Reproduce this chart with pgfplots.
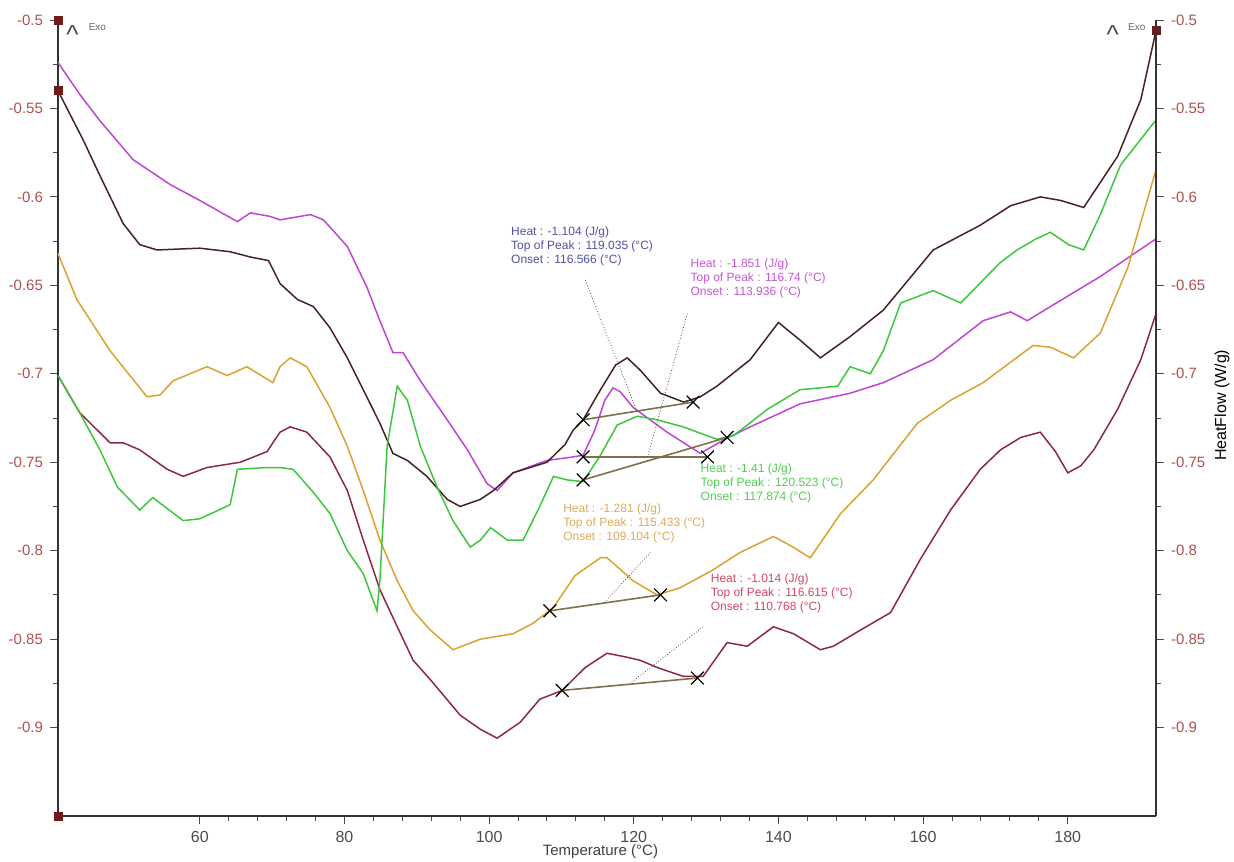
\documentclass[border=0pt]{standalone}
\usepackage{fontspec}
\setmainfont{Liberation Sans}
\usepackage{pgfplots}
\pgfplotsset{compat=1.18}

\definecolor{cMag}{RGB}{190,70,210}
\definecolor{cBrn}{RGB}{72,34,34}
\definecolor{cOrg}{RGB}{218,162,50}
\definecolor{cMar}{RGB}{140,40,70}
\definecolor{cGrn}{RGB}{60,200,60}
\definecolor{cBase}{RGB}{125,112,75}
\definecolor{tickred}{RGB}{176,80,80}
\definecolor{tBlue}{RGB}{80,80,165}
\definecolor{tMag}{RGB}{200,85,215}
\definecolor{tGrn}{RGB}{80,205,80}
\definecolor{tOrg}{RGB}{225,170,90}
\definecolor{tMar}{RGB}{210,70,100}

\pgfplotsset{
  dscax/.style={
    scale only axis, width=549pt, height=398pt,
    xmin=40.4, xmax=192.2, ymin=-0.95, ymax=-0.5,
    ytick={-0.9,-0.85,-0.8,-0.75,-0.7,-0.65,-0.6,-0.55,-0.5},
    minor y tick num=1,
    tick align=outside,
    major tick length=4pt, minor tick length=2.5pt,
    axis line style={line width=0.8pt, black!80},
    tick style={black!70, line width=0.5pt},
    yticklabel style={font=\fontsize{7.5}{9}\selectfont, text=tickred},
    /pgf/number format/fixed,
    /pgf/number format/precision=2,
    /pgf/number format/assume math mode=true,
  },
}
\tikzset{ann/.style={font=\fontsize{6}{7}\selectfont, align=left, anchor=north west, inner sep=0pt}}

\begin{document}
\begin{tikzpicture}
\begin{axis}[
  dscax,
  axis x line*=bottom, axis y line*=left,
  xtick={60,80,...,180}, minor x tick num=4,
  xticklabel style={font=\fontsize{8}{9}\selectfont, text=black!70},
  clip=false,
]
% magenta
\addplot[cMag, line width=0.75pt] coordinates {
(40.4,-0.524) (43.4,-0.542) (46.2,-0.557) (50.8,-0.579) (55.9,-0.593) (60.0,-0.602)
(65.2,-0.614) (67.0,-0.609) (69.7,-0.611) (71.1,-0.613) (75.3,-0.610) (77.1,-0.613)
(80.4,-0.628) (83.1,-0.651) (84.9,-0.670) (86.7,-0.688) (88.1,-0.688) (90.5,-0.704)
(94.2,-0.726) (97.0,-0.743) (99.7,-0.762) (101.1,-0.766) (103.3,-0.756) (108.0,-0.749)
(111.6,-0.747) (113.0,-0.746) (114.6,-0.732) (116.0,-0.715) (117.1,-0.708) (118.1,-0.710)
(119.9,-0.719) (124.6,-0.733) (129.2,-0.745) (132.6,-0.737) (136.1,-0.730) (143.0,-0.717)
(149.9,-0.711) (154.5,-0.705) (161.4,-0.692) (168.3,-0.670) (172.1,-0.665) (174.4,-0.670)
(177.6,-0.662) (184.5,-0.645) (192.1,-0.624)
};
% dark brown
\addplot[cBrn, line width=0.75pt] coordinates {
(40.4,-0.540) (43.9,-0.568) (46.2,-0.588) (49.4,-0.615) (51.7,-0.627) (54.1,-0.630)
(60.0,-0.629) (64.2,-0.631) (67.0,-0.634) (69.5,-0.636) (71.1,-0.649) (73.5,-0.658)
(75.7,-0.662) (78.0,-0.674) (80.4,-0.691) (82.6,-0.709) (84.9,-0.728) (86.7,-0.745)
(88.7,-0.749) (91.4,-0.758) (94.2,-0.771) (96.0,-0.775) (98.8,-0.771) (100.6,-0.766)
(103.3,-0.756) (108.0,-0.750) (110.5,-0.740) (111.6,-0.732) (113.0,-0.726) (115.4,-0.709)
(117.5,-0.695) (119.1,-0.691) (120.9,-0.698) (123.7,-0.711) (126.9,-0.716) (129.2,-0.713)
(131.5,-0.707) (136.1,-0.692) (140.0,-0.671) (143.0,-0.681) (145.8,-0.691) (149.9,-0.679)
(154.5,-0.664) (161.4,-0.630) (167.9,-0.616) (172.1,-0.605) (176.2,-0.600) (179.0,-0.602)
(182.2,-0.606) (186.9,-0.577) (190.1,-0.545) (192.2,-0.506)
};
% orange
\addplot[cOrg, line width=0.75pt] coordinates {
(40.4,-0.632) (43.0,-0.658) (47.6,-0.687) (52.7,-0.713) (54.5,-0.712) (56.3,-0.704)
(61.0,-0.696) (63.8,-0.701) (66.5,-0.696) (70.1,-0.705) (71.1,-0.696) (72.5,-0.691)
(74.8,-0.696) (78.0,-0.719) (80.4,-0.741) (82.6,-0.766) (84.9,-0.794) (87.3,-0.817)
(89.5,-0.834) (91.9,-0.845) (95.0,-0.856) (98.8,-0.850) (103.3,-0.847) (106.1,-0.841)
(108.9,-0.832) (111.9,-0.814) (115.4,-0.804) (116.3,-0.804) (119.9,-0.817) (123.2,-0.825)
(126.4,-0.821) (130.9,-0.811) (134.7,-0.801) (139.3,-0.792) (141.6,-0.797) (144.4,-0.804)
(148.6,-0.779) (153.1,-0.760) (159.2,-0.728) (163.8,-0.715) (168.3,-0.705) (175.2,-0.684)
(177.6,-0.685) (180.8,-0.691) (184.5,-0.677) (188.3,-0.640) (192.1,-0.586)
};
% maroon
\addplot[cMar, line width=0.75pt] coordinates {
(40.4,-0.701) (43.4,-0.722) (47.6,-0.739) (49.4,-0.739) (51.7,-0.743) (55.5,-0.754)
(57.7,-0.758) (61.0,-0.753) (65.6,-0.750) (69.3,-0.744) (71.1,-0.733) (72.5,-0.730)
(74.8,-0.733) (78.0,-0.747) (80.4,-0.766) (82.6,-0.794) (84.9,-0.822) (87.3,-0.843)
(89.5,-0.862) (91.9,-0.873) (96.0,-0.893) (98.8,-0.901) (101.1,-0.906) (104.3,-0.897)
(107.0,-0.884) (110.1,-0.879) (113.3,-0.866) (116.3,-0.858) (118.8,-0.860) (120.9,-0.862)
(123.2,-0.866) (126.8,-0.871) (129.6,-0.871) (132.9,-0.852) (135.7,-0.854) (139.3,-0.843)
(142.1,-0.847) (145.8,-0.856) (147.6,-0.854) (151.3,-0.845) (155.5,-0.835) (159.6,-0.805)
(163.8,-0.777) (167.9,-0.754) (170.7,-0.743) (173.5,-0.736) (176.2,-0.733) (178.3,-0.744)
(180.0,-0.756) (181.8,-0.752) (183.6,-0.743) (186.9,-0.720) (190.1,-0.692) (192.2,-0.666)
};
% green
\addplot[cGrn, line width=0.75pt] coordinates {
(40.4,-0.701) (43.4,-0.722) (46.2,-0.743) (48.6,-0.764) (51.7,-0.777) (53.5,-0.770)
(57.7,-0.783) (60.0,-0.782) (64.2,-0.774) (65.2,-0.754) (69.3,-0.753) (71.1,-0.753)
(72.9,-0.754) (75.7,-0.767) (78.0,-0.779) (80.4,-0.800) (82.6,-0.813) (84.5,-0.834)
(84.9,-0.817) (85.9,-0.741) (87.3,-0.707) (88.7,-0.715) (90.5,-0.741) (92.8,-0.764)
(95.0,-0.783) (97.4,-0.798) (98.8,-0.794) (100.2,-0.787) (102.5,-0.794) (104.7,-0.794)
(107.0,-0.775) (108.9,-0.758) (110.8,-0.760) (113.0,-0.761) (115.4,-0.746) (117.7,-0.729)
(120.5,-0.724) (123.2,-0.726) (126.8,-0.730) (131.5,-0.737) (133.8,-0.735) (138.5,-0.720)
(143.0,-0.709) (148.2,-0.707) (149.9,-0.696) (152.7,-0.700) (154.5,-0.687) (156.9,-0.660)
(161.4,-0.653) (165.2,-0.660) (168.3,-0.647) (170.7,-0.637) (173.0,-0.630) (175.5,-0.624)
(177.6,-0.620) (180.1,-0.627) (182.2,-0.630) (184.5,-0.610) (187.3,-0.582) (192.1,-0.557)
};
% peak baselines
\addplot[cBase, line width=0.8pt, mark=x, mark size=4.5pt, mark options={black, line width=0.6pt}] coordinates {(113.0,-0.726) (128.2,-0.716)};
\addplot[cBase, line width=0.8pt, mark=x, mark size=4.5pt, mark options={black, line width=0.6pt}] coordinates {(113.0,-0.747) (130.2,-0.747)};
\addplot[cBase, line width=0.8pt, mark=x, mark size=4.5pt, mark options={black, line width=0.6pt}] coordinates {(113.0,-0.760) (132.9,-0.736)};
\addplot[cBase, line width=0.8pt, mark=x, mark size=4.5pt, mark options={black, line width=0.6pt}] coordinates {(108.4,-0.834) (123.7,-0.825)};
\addplot[cBase, line width=0.8pt, mark=x, mark size=4.5pt, mark options={black, line width=0.6pt}] coordinates {(110.1,-0.879) (128.8,-0.872)};
% leader lines
\addplot[black!70, densely dotted, line width=0.4pt] coordinates {(113.3,-0.647) (120.5,-0.722)};
\addplot[black!70, densely dotted, line width=0.4pt] coordinates {(127.4,-0.666) (121.9,-0.747)};
\addplot[black!70, densely dotted, line width=0.4pt] coordinates {(122.3,-0.801) (115.8,-0.830)};
\addplot[black!70, densely dotted, line width=0.4pt] coordinates {(129.6,-0.843) (119.5,-0.875)};
% axis end markers
\addplot[only marks, mark=square*, mark size=2pt, color=cBrn!80!red] coordinates {(40.4,-0.5) (40.4,-0.54) (40.4,-0.95) (192.2,-0.506)};
% annotations
\node[ann, text=tBlue] at (axis cs:103.0,-0.6165) {Heat : -1.104 (J/g)\\Top of Peak : 119.035 (°C)\\Onset : 116.566 (°C)};
\node[ann, text=tMag] at (axis cs:127.8,-0.6345) {Heat : -1.851 (J/g)\\Top of Peak : 116.74 (°C)\\Onset : 113.936 (°C)};
\node[ann, text=tGrn] at (axis cs:129.2,-0.7504) {Heat : -1.41 (J/g)\\Top of Peak : 120.523 (°C)\\Onset : 117.874 (°C)};
\node[ann, text=tOrg] at (axis cs:110.2,-0.773) {Heat : -1.281 (J/g)\\Top of Peak : 115.433 (°C)\\Onset : 109.104 (°C)};
\node[ann, text=tMar] at (axis cs:130.6,-0.8126) {Heat : -1.014 (J/g)\\Top of Peak : 116.615 (°C)\\Onset : 110.768 (°C)};
% exo marks
\node[font=\fontsize{13}{13}\selectfont, text=black!70, inner sep=0pt] at (axis cs:42.4,-0.508) {\textasciicircum};
\node[font=\fontsize{5}{6}\selectfont, text=black!60, anchor=west, inner sep=0pt] at (axis cs:44.6,-0.504) {Exo};
\node[font=\fontsize{13}{13}\selectfont, text=black!70, inner sep=0pt] at (axis cs:186.2,-0.508) {\textasciicircum};
\node[font=\fontsize{5}{6}\selectfont, text=black!60, anchor=west, inner sep=0pt] at (axis cs:188.3,-0.504) {Exo};
% axis titles
\node[font=\fontsize{7.5}{9}\selectfont, text=black!75] at (rel axis cs:0.494,0) [yshift=-18pt] {Temperature (°C)};
\node[font=\fontsize{8}{9}\selectfont, rotate=90] at ([xshift=33pt]rel axis cs:1,0.516) {HeatFlow (W/g)};
\end{axis}
\begin{axis}[
  dscax,
  axis y line*=right, axis x line=none,
]
\addplot[draw=none] coordinates {(100,-0.7)};
\end{axis}
\pgfresetboundingbox
\path ([shift={(-29pt,-22.5pt)}]current axis.south west) rectangle ([shift={(39pt,10pt)}]current axis.north east);
\end{tikzpicture}
\end{document}
